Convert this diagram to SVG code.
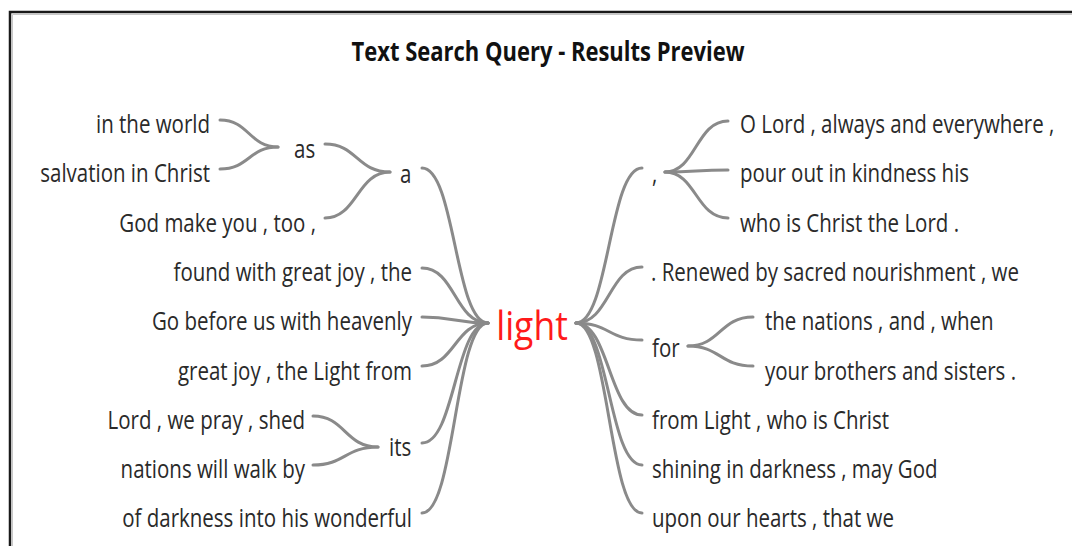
<svg xmlns="http://www.w3.org/2000/svg" width="1072" height="546" viewBox="0 0 1072 546">
<style>
.t{font-family:"Open Sans","Noto Sans",sans-serif;font-size:20.5px;fill:#2a2a2a}
.e{text-anchor:end}
.ttl{font-family:"Open Sans","Noto Sans",sans-serif;font-size:22px;font-weight:bold;fill:#111;text-anchor:middle}
.root{font-family:"Open Sans","Noto Sans",sans-serif;font-size:35.5px;fill:#ff1a1a}
.c path{fill:none;stroke:#8a8a8a;stroke-width:3;stroke-linecap:round}
</style>
<rect x="0" y="0" width="1072" height="546" fill="#fff"/>
<path d="M10,546 V12 H1072" fill="none" stroke="#1a1a1a" stroke-width="2.5"/>
<path d="M12.5,546 V14.5 H1072" fill="none" stroke="#c8c8c8" stroke-width="1"/>
<text class="ttl" transform="translate(548,61) scale(1,1.2)">Text Search Query - Results Preview</text>

<g id="connectors" class="c">
<path d="M220,120 C249,120 249,147 278,147"/>
<path d="M220,169 C249,169 249,147 278,147"/>
<path d="M325,144 C357,144 357,172 390,172"/>
<path d="M325,218 C357,218 357,172 390,172"/>
<path d="M422,168 C455,168 455,323 488,323"/>
<path d="M422,268 C455,268 455,323 488,323"/>
<path d="M422,317 C455,317 455,323 488,323"/>
<path d="M422,366 C455,366 455,323 488,323"/>
<path d="M313,416 C345,416 345,447 378,447"/>
<path d="M313,465 C345,465 345,447 378,447"/>
<path d="M422,443 C455,443 455,323 488,323"/>
<path d="M422,513 C455,513 455,323 488,323"/>
<path d="M576,323 C609,323 609,168 642,168"/>
<path d="M576,323 C609,323 609,267 642,267"/>
<path d="M576,323 C609,323 609,340 642,340"/>
<path d="M576,323 C609,323 609,415 642,415"/>
<path d="M576,323 C609,323 609,465 642,465"/>
<path d="M576,323 C609,323 609,513 642,513"/>
<path d="M665,172 C696,172 696,121 728,121"/>
<path d="M665,172 C696,172 696,170 728,170"/>
<path d="M665,172 C696,172 696,218 728,218"/>
<path d="M688,346 C720,346 720,317 753,317"/>
<path d="M688,346 C720,346 720,366 753,366"/>
</g>

<g id="n-light"><text class="root" transform="translate(532,340) scale(1,1.12)" text-anchor="middle">light</text></g>
<g id="n-in-the-world"><text class="t e" transform="translate(210,133) scale(1,1.2)">in the world</text></g>
<g id="n-salvation"><text class="t e" transform="translate(210,182) scale(1,1.2)">salvation in Christ</text></g>
<g id="n-as"><text class="t" transform="translate(294,158) scale(1,1.2)">as</text></g>
<g id="n-god-make"><text class="t e" transform="translate(316,232) scale(1,1.2)">God make you , too ,</text></g>
<g id="n-a"><text class="t" transform="translate(400,183) scale(1,1.2)">a</text></g>
<g id="n-found"><text class="t e" transform="translate(412,281) scale(1,1.2)">found with great joy , the</text></g>
<g id="n-go-before"><text class="t e" transform="translate(412,330) scale(1,1.2)">Go before us with heavenly</text></g>
<g id="n-great-joy"><text class="t e" transform="translate(412,380) scale(1,1.2)">great joy , the Light from</text></g>
<g id="n-lord-pray"><text class="t e" transform="translate(305,429) scale(1,1.2)">Lord , we pray , shed</text></g>
<g id="n-nations-walk"><text class="t e" transform="translate(305,478) scale(1,1.2)">nations will walk by</text></g>
<g id="n-its"><text class="t" transform="translate(389,456) scale(1,1.2)">its</text></g>
<g id="n-darkness"><text class="t e" transform="translate(412,527) scale(1,1.2)">of darkness into his wonderful</text></g>

<g id="n-comma"><text class="t" transform="translate(652,183) scale(1,1.2)">,</text></g>
<g id="n-o-lord"><text class="t" transform="translate(740,133) scale(1,1.2)">O Lord , always and everywhere ,</text></g>
<g id="n-pour"><text class="t" transform="translate(740,182) scale(1,1.2)">pour out in kindness his</text></g>
<g id="n-who-is"><text class="t" transform="translate(740,232) scale(1,1.2)">who is Christ the Lord .</text></g>
<g id="n-renewed"><text class="t" transform="translate(651,281) scale(1,1.2)">. Renewed by sacred nourishment , we</text></g>
<g id="n-for"><text class="t" transform="translate(652,357) scale(1,1.2)">for</text></g>
<g id="n-nations-and"><text class="t" transform="translate(765,330) scale(1,1.2)">the nations , and , when</text></g>
<g id="n-brothers"><text class="t" transform="translate(765,380) scale(1,1.2)">your brothers and sisters .</text></g>
<g id="n-from-light"><text class="t" transform="translate(652,429) scale(1,1.2)">from Light , who is Christ</text></g>
<g id="n-shining"><text class="t" transform="translate(652,478) scale(1,1.2)">shining in darkness , may God</text></g>
<g id="n-upon"><text class="t" transform="translate(652,527) scale(1,1.2)">upon our hearts , that we</text></g>
</svg>
